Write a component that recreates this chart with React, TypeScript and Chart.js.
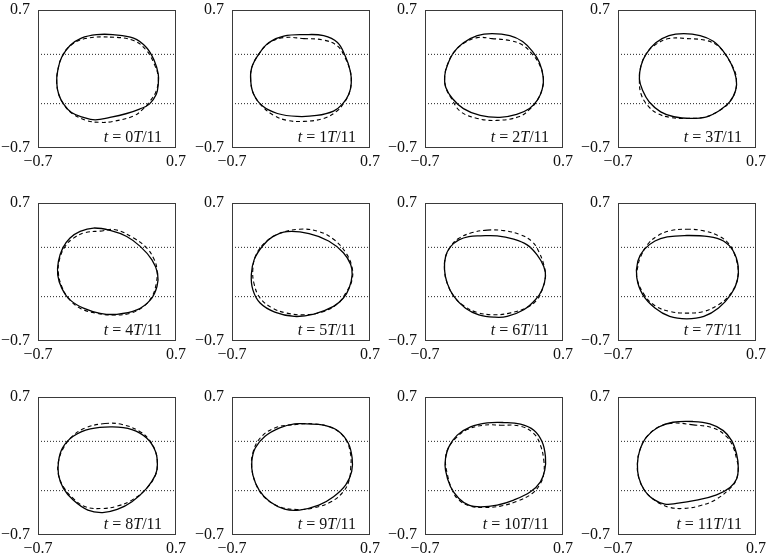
import React, { useEffect, useRef } from 'react';
import { Chart, registerables } from 'chart.js';

Chart.register(...registerables);

// ---- data ----
const axisTicks = [-0.7, 0.7];
const dottedLevels = [0.25, -0.25];
const phaseNumbers = [0, 1, 2, 3, 4, 5, 6, 7, 8, 9, 10, 11];
const periodDivisor = 11;

const solidT0 = [[0.06,0.45],[0.27,0.415],[0.40,0.32],[0.48,0.185],[0.52,0.05],[0.52,-0.05],[0.50,-0.155],[0.43,-0.255],[0.33,-0.305],[0.20,-0.35],[0.03,-0.39],[-0.12,-0.415],[-0.24,-0.39],[-0.36,-0.34],[-0.44,-0.255],[-0.49,-0.155],[-0.51,-0.035],[-0.50,0.085],[-0.46,0.22],[-0.375,0.34],[-0.26,0.415],[-0.105,0.45]];
const dashedT0 = [[0.03,0.425],[0.27,0.39],[0.40,0.29],[0.48,0.15],[0.52,0.015],[0.50,-0.12],[0.44,-0.22],[0.37,-0.30],[0.27,-0.375],[0.06,-0.43],[-0.07,-0.44],[-0.21,-0.42],[-0.36,-0.345],[-0.44,-0.255],[-0.49,-0.155],[-0.51,-0.03],[-0.50,0.085],[-0.46,0.22],[-0.37,0.34],[-0.22,0.41]];

const solidT1 = [[0.03,0.45],[0.23,0.44],[0.37,0.37],[0.45,0.23],[0.50,0.08],[0.51,-0.04],[0.485,-0.155],[0.42,-0.255],[0.33,-0.325],[0.16,-0.37],[-0.04,-0.38],[-0.24,-0.35],[-0.39,-0.275],[-0.48,-0.155],[-0.51,-0.02],[-0.50,0.115],[-0.43,0.25],[-0.325,0.37],[-0.175,0.435]];
const dashedT1 = [[0.03,0.41],[0.23,0.395],[0.37,0.335],[0.44,0.23],[0.50,0.08],[0.51,-0.04],[0.485,-0.155],[0.43,-0.25],[0.365,-0.325],[0.23,-0.40],[0.03,-0.43],[-0.14,-0.42],[-0.275,-0.37],[-0.39,-0.28],[-0.48,-0.155],[-0.51,-0.02],[-0.50,0.115],[-0.43,0.25],[-0.325,0.365],[-0.175,0.42]];

const solidT2 = [[-0.02,0.46],[0.16,0.44],[0.29,0.38],[0.39,0.28],[0.46,0.17],[0.50,0.015],[0.49,-0.1],[0.44,-0.215],[0.36,-0.30],[0.23,-0.36],[0.06,-0.39],[-0.14,-0.37],[-0.31,-0.30],[-0.42,-0.2],[-0.49,-0.083],[-0.50,0.033],[-0.47,0.15],[-0.41,0.267],[-0.31,0.367],[-0.17,0.44]];
const dashedT2 = [[-0.02,0.41],[0.16,0.39],[0.29,0.345],[0.39,0.25],[0.46,0.15],[0.50,0.015],[0.49,-0.1],[0.44,-0.215],[0.37,-0.30],[0.26,-0.38],[0.03,-0.42],[-0.17,-0.40],[-0.34,-0.33],[-0.43,-0.2],[-0.49,-0.083],[-0.50,0.033],[-0.47,0.15],[-0.41,0.267],[-0.31,0.36],[-0.17,0.42]];

const solidT3 = [[-0.033,0.46],[0.133,0.44],[0.267,0.383],[0.367,0.283],[0.45,0.15],[0.50,0.0],[0.493,-0.117],[0.433,-0.233],[0.333,-0.317],[0.2,-0.383],[0.033,-0.40],[-0.133,-0.383],[-0.267,-0.333],[-0.383,-0.233],[-0.45,-0.117],[-0.483,0.0],[-0.467,0.133],[-0.417,0.25],[-0.317,0.367],[-0.183,0.44]];
const dashedT3 = [[0.0,0.41],[0.2,0.39],[0.317,0.333],[0.40,0.233],[0.483,0.083],[0.50,0.0],[0.493,-0.117],[0.433,-0.233],[0.333,-0.317],[0.183,-0.385],[0.0,-0.40],[-0.167,-0.39],[-0.30,-0.35],[-0.40,-0.267],[-0.467,-0.15],[-0.483,0.0],[-0.467,0.133],[-0.417,0.25],[-0.333,0.34],[-0.183,0.41]];

const solidT4 = [[-0.137,0.446],[0.032,0.422],[0.20,0.36],[0.337,0.26],[0.456,0.124],[0.513,-0.012],[0.507,-0.147],[0.44,-0.283],[0.303,-0.385],[0.10,-0.429],[-0.07,-0.419],[-0.239,-0.367],[-0.375,-0.283],[-0.459,-0.164],[-0.50,-0.029],[-0.493,0.107],[-0.449,0.242],[-0.375,0.344],[-0.273,0.412]];
const dashedT4 = [[-0.07,0.415],[0.083,0.429],[0.27,0.344],[0.405,0.242],[0.48,0.124],[0.507,0.022],[0.50,-0.114],[0.456,-0.25],[0.371,-0.35],[0.236,-0.419],[0.066,-0.436],[-0.103,-0.419],[-0.273,-0.367],[-0.392,-0.266],[-0.459,-0.147],[-0.493,-0.012],[-0.483,0.124],[-0.425,0.259],[-0.34,0.344],[-0.22,0.40]];

const solidT5 = [[-0.142,0.41],[0.082,0.39],[0.28,0.315],[0.43,0.196],[0.504,0.077],[0.519,-0.026],[0.489,-0.162],[0.43,-0.264],[0.33,-0.349],[0.132,-0.427],[-0.067,-0.451],[-0.266,-0.407],[-0.415,-0.315],[-0.489,-0.179],[-0.504,-0.026],[-0.474,0.128],[-0.39,0.264],[-0.29,0.356]];
const dashedT5 = [[-0.017,0.434],[0.181,0.41],[0.33,0.332],[0.454,0.196],[0.519,0.043],[0.514,-0.094],[0.454,-0.213],[0.38,-0.315],[0.231,-0.40],[0.032,-0.434],[-0.142,-0.417],[-0.29,-0.366],[-0.415,-0.264],[-0.474,-0.128],[-0.489,0.026],[-0.454,0.179],[-0.365,0.298],[-0.241,0.383]];

const solidT6 = [[-0.137,0.367],[0.032,0.367],[0.20,0.333],[0.336,0.275],[0.437,0.174],[0.505,0.056],[0.522,-0.046],[0.488,-0.18],[0.42,-0.282],[0.302,-0.383],[0.133,-0.451],[0.0,-0.458],[-0.154,-0.434],[-0.289,-0.367],[-0.407,-0.248],[-0.475,-0.113],[-0.502,0.022],[-0.491,0.157],[-0.441,0.258],[-0.356,0.326],[-0.255,0.36]];
const dashedT6 = [[-0.069,0.425],[0.10,0.42],[0.269,0.377],[0.387,0.309],[0.454,0.208],[0.505,0.073],[0.522,-0.046],[0.488,-0.18],[0.437,-0.282],[0.336,-0.36],[0.167,-0.415],[0.0,-0.434],[-0.171,-0.41],[-0.306,-0.343],[-0.407,-0.248],[-0.475,-0.113],[-0.502,0.022],[-0.491,0.157],[-0.441,0.258],[-0.36,0.34],[-0.22,0.40]];

const solidT7 = [[-0.027,0.37],[0.221,0.359],[0.37,0.315],[0.469,0.213],[0.519,0.06],[0.509,-0.094],[0.444,-0.23],[0.32,-0.366],[0.171,-0.451],[-0.002,-0.475],[-0.176,-0.451],[-0.325,-0.366],[-0.449,-0.23],[-0.509,-0.06],[-0.499,0.111],[-0.434,0.23],[-0.325,0.315],[-0.201,0.356]];
const dashedT7 = [[-0.002,0.434],[0.171,0.417],[0.32,0.366],[0.429,0.281],[0.494,0.145],[0.519,0.009],[0.494,-0.128],[0.42,-0.247],[0.32,-0.332],[0.171,-0.40],[-0.002,-0.417],[-0.176,-0.40],[-0.325,-0.342],[-0.434,-0.23],[-0.509,-0.06],[-0.50,0.05],[-0.474,0.145],[-0.399,0.281],[-0.30,0.366],[-0.176,0.417]];

const solidT8 = [[0.055,0.397],[0.253,0.37],[0.402,0.284],[0.492,0.148],[0.511,0.012],[0.492,-0.09],[0.402,-0.227],[0.253,-0.363],[0.104,-0.441],[-0.045,-0.472],[-0.194,-0.448],[-0.343,-0.346],[-0.442,-0.227],[-0.492,-0.09],[-0.492,0.046],[-0.452,0.182],[-0.343,0.301],[-0.169,0.376]];
const dashedT8 = [[-0.02,0.431],[0.154,0.421],[0.328,0.353],[0.427,0.267],[0.492,0.148],[0.511,0.012],[0.492,-0.09],[0.402,-0.227],[0.253,-0.346],[0.104,-0.407],[-0.045,-0.431],[-0.219,-0.414],[-0.343,-0.329],[-0.432,-0.227],[-0.492,-0.09],[-0.492,0.046],[-0.442,0.182],[-0.353,0.301],[-0.219,0.386]];

const solidT9 = [[0.057,0.427],[0.231,0.414],[0.38,0.353],[0.479,0.233],[0.519,0.08],[0.514,-0.056],[0.454,-0.192],[0.33,-0.312],[0.181,-0.397],[-0.017,-0.448],[-0.166,-0.438],[-0.315,-0.363],[-0.425,-0.244],[-0.489,-0.09],[-0.499,0.046],[-0.464,0.182],[-0.365,0.301],[-0.216,0.386],[-0.067,0.427]];
const dashedT9 = [[-0.067,0.42],[0.132,0.427],[0.33,0.38],[0.454,0.267],[0.504,0.114],[0.504,-0.022],[0.489,-0.141],[0.43,-0.26],[0.305,-0.363],[0.132,-0.424],[-0.042,-0.441],[-0.216,-0.414],[-0.365,-0.322],[-0.454,-0.192],[-0.499,-0.022],[-0.489,0.131],[-0.414,0.284],[-0.266,0.386]];

const solidT10 = [[0.10,0.441],[0.269,0.424],[0.404,0.363],[0.488,0.245],[0.522,0.093],[0.515,-0.042],[0.471,-0.16],[0.37,-0.262],[0.20,-0.346],[0.032,-0.397],[-0.137,-0.414],[-0.255,-0.397],[-0.356,-0.329],[-0.441,-0.211],[-0.492,-0.042],[-0.492,0.076],[-0.458,0.194],[-0.373,0.313],[-0.238,0.397],[-0.069,0.437]];
const dashedT10 = [[0.066,0.414],[0.269,0.404],[0.404,0.329],[0.471,0.211],[0.505,0.059],[0.505,-0.076],[0.471,-0.177],[0.387,-0.279],[0.235,-0.357],[0.066,-0.407],[-0.103,-0.421],[-0.238,-0.407],[-0.356,-0.346],[-0.424,-0.245],[-0.475,-0.076],[-0.492,0.076],[-0.458,0.194],[-0.373,0.296],[-0.272,0.37],[-0.103,0.414]];

const solidT11 = [[0.063,0.451],[0.232,0.427],[0.368,0.359],[0.453,0.258],[0.503,0.122],[0.52,-0.014],[0.503,-0.132],[0.436,-0.217],[0.30,-0.292],[0.097,-0.346],[-0.107,-0.38],[-0.225,-0.386],[-0.344,-0.336],[-0.429,-0.251],[-0.49,-0.115],[-0.503,0.02],[-0.48,0.156],[-0.412,0.292],[-0.293,0.393],[-0.141,0.444]];
const dashedT11 = [[0.063,0.417],[0.266,0.386],[0.402,0.298],[0.469,0.19],[0.503,0.071],[0.52,-0.014],[0.503,-0.132],[0.453,-0.21],[0.30,-0.336],[0.131,-0.403],[-0.039,-0.431],[-0.175,-0.42],[-0.276,-0.38],[-0.361,-0.319],[-0.429,-0.251],[-0.49,-0.115],[-0.503,0.02],[-0.48,0.156],[-0.412,0.292],[-0.293,0.393],[-0.141,0.435]];

const solidCurves = [solidT0, solidT1, solidT2, solidT3, solidT4, solidT5, solidT6, solidT7, solidT8, solidT9, solidT10, solidT11];
const dashedCurves = [dashedT0, dashedT1, dashedT2, dashedT3, dashedT4, dashedT5, dashedT6, dashedT7, dashedT8, dashedT9, dashedT10, dashedT11];

// ---- layout ----
const SERIF = "'Liberation Serif', 'Times New Roman', Times, serif";
const COL_LEFT = [0, 194, 387, 580];
const ROW_TOP = [1, 194, 388];
const CANVAS_W = 188;
const CANVAS_H = 172;

const fmt = (v: number) => (v < 0 ? '\u2212' : '') + Math.abs(v).toFixed(1);

const closedLoopPlugin = {
  id: 'closedLoop',
  beforeDatasetDraw(chart: any, args: any) {
    const ds = chart.data.datasets[args.index];
    if (!ds || !ds.closed) return;
    const line = args.meta.dataset;
    if (!line) return;
    line._loop = true;
    line._fullLoop = true;
    line._pointsUpdated = false;
    line._segments = undefined;
    line._path = undefined;
    line.updateControlPoints(chart.chartArea, 'x');
  },
};

const frameLabelPlugin = {
  id: 'frameLabel',
  afterDraw(chart: any) {
    const { ctx, chartArea } = chart;
    const a = chartArea;
    ctx.save();
    ctx.strokeStyle = '#3a3a3a';
    ctx.lineWidth = 1;
    ctx.strokeRect(Math.round(a.left) + 0.5, Math.round(a.top) + 0.5, Math.round(a.right - a.left) - 1, Math.round(a.bottom - a.top) - 1);
    const n = chart.options.plugins.frameLabel.phase;
    const parts = [
      { t: 't', f: `italic 16px ${SERIF}` },
      { t: ` = ${n}`, f: `16px ${SERIF}` },
      { t: 'T', f: `italic 16px ${SERIF}` },
      { t: `/${periodDivisor}`, f: `16px ${SERIF}` },
    ];
    let total = 0;
    for (const p of parts) { ctx.font = p.f; total += ctx.measureText(p.t).width; }
    let x = a.right - 14 - total;
    const y = a.bottom - 6;
    ctx.fillStyle = '#111';
    ctx.textBaseline = 'alphabetic';
    ctx.textAlign = 'left';
    for (const p of parts) { ctx.font = p.f; ctx.fillText(p.t, x, y); x += ctx.measureText(p.t).width; }
    ctx.restore();
  },
};

const noOverflowPadding = (s: any) => {
  s.paddingTop = 0;
  s.paddingBottom = 0;
  s.paddingLeft = 0;
  s.paddingRight = 0;
};

function Panel({ index }: { index: number }) {
  const ref = useRef<HTMLCanvasElement | null>(null);
  useEffect(() => {
    if (!ref.current) return;
    const toPts = (arr: number[][]) => arr.map(([x, y]) => ({ x, y }));
    const datasets: any[] = [
      ...dottedLevels.map((lv) => ({
        data: axisTicks.map((x) => ({ x, y: lv })),
        showLine: true,
        borderColor: '#222',
        borderWidth: 1,
        borderDash: [1, 2],
        pointRadius: 0,
      })),
      {
        data: toPts(dashedCurves[index]),
        closed: true,
        showLine: true,
        spanGaps: true,
        tension: 0.4,
        borderColor: '#000',
        borderWidth: 1.1,
        borderDash: [4, 3],
        pointRadius: 0,
      },
      {
        data: toPts(solidCurves[index]),
        closed: true,
        showLine: true,
        spanGaps: true,
        tension: 0.4,
        borderColor: '#000',
        borderWidth: 1.3,
        pointRadius: 0,
      },
    ];
    const tickFont = { family: SERIF, size: 16 };
    const chart = new Chart(ref.current, {
      type: 'scatter',
      data: { datasets },
      plugins: [closedLoopPlugin, frameLabelPlugin],
      options: {
        animation: false,
        responsive: false,
        devicePixelRatio: 1,
        layout: { padding: { top: 9, right: 12, bottom: 0, left: 0 } },
        plugins: {
          legend: { display: false },
          tooltip: { enabled: false },
          frameLabel: { phase: phaseNumbers[index] },
        } as any,
        scales: {
          x: {
            type: 'linear',
            min: -0.7,
            max: 0.7,
            grid: { display: false, drawTicks: false },
            border: { display: false },
            afterBuildTicks: (s: any) => { s.ticks = axisTicks.map((v) => ({ value: v })); },
            afterFit: (s: any) => { s.height = 25; noOverflowPadding(s); },
            ticks: { callback: (v: any) => fmt(Number(v)), padding: 4, font: tickFont, color: '#111', maxRotation: 0, autoSkip: false },
          },
          y: {
            type: 'linear',
            min: -0.7,
            max: 0.7,
            grid: { display: false, drawTicks: false },
            border: { display: false },
            afterBuildTicks: (s: any) => { s.ticks = axisTicks.map((v) => ({ value: v })); },
            afterFit: (s: any) => { s.width = 38; noOverflowPadding(s); },
            ticks: { callback: (v: any) => fmt(Number(v)), padding: 8, font: tickFont, color: '#111', autoSkip: false },
          },
        },
      } as any,
    });
    return () => chart.destroy();
  }, [index]);
  const col = index % 4;
  const row = Math.floor(index / 4);
  return (
    <canvas
      ref={ref}
      width={CANVAS_W}
      height={CANVAS_H}
      style={{ position: 'absolute', left: COL_LEFT[col], top: ROW_TOP[row], width: CANVAS_W, height: CANVAS_H }}
    />
  );
}

export default function App() {
  return (
    <div style={{ position: 'absolute', left: 0, top: 0, width: 767, height: 560, overflow: 'hidden', background: '#fff' }}>
      {phaseNumbers.map((_, i) => (
        <Panel key={i} index={i} />
      ))}
    </div>
  );
}
